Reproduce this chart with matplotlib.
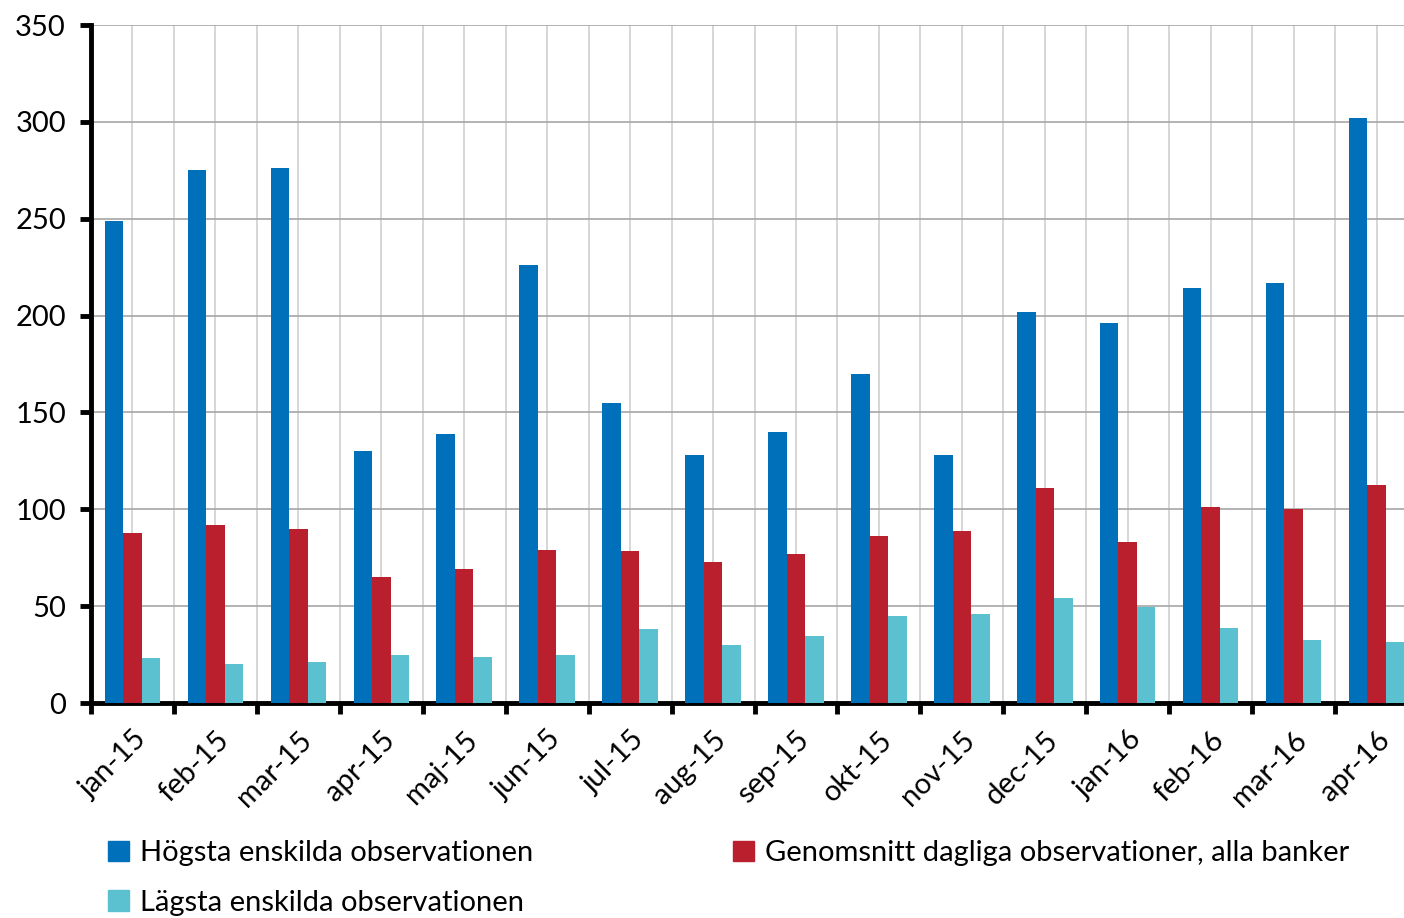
import numpy as np
import matplotlib.pyplot as plt
from matplotlib.patches import Patch

# Données
mois = ['jan-15', 'feb-15', 'mar-15', 'apr-15', 'maj-15', 'jun-15', 'jul-15', 'aug-15',
        'sep-15', 'okt-15', 'nov-15', 'dec-15', 'jan-16', 'feb-16', 'mar-16', 'apr-16']
hogsta = [249, 275, 276, 130, 139, 226, 155, 128, 140, 170, 128, 202, 196, 214, 217, 302]
genomsnitt = [88, 92, 90, 65, 69, 79, 78.5, 73, 77, 86, 89, 111, 83, 101, 100, 112.5]
lagsta = [23, 20, 21, 25, 24, 25, 38, 30, 34.5, 45, 46, 54, 49.5, 38.5, 32.5, 31.5]

noms = ['Högsta enskilda observationen',
        'Genomsnitt dagliga observationer, alla banker',
        'Lägsta enskilda observationen']
couleurs = ['#0070BA', '#BA1F2D', '#5BC0CF']

plt.rcParams['font.family'] = ['Lato', 'DejaVu Sans']

fig = plt.figure(figsize=(14.04, 9.18), dpi=100)
ax = fig.add_axes([91 / 1404, 215 / 918, 1327 / 1404, 678 / 918])

x = np.arange(len(mois))
w = 0.223
ax.bar(x - w, hogsta, w, color=couleurs[0], zorder=3)
ax.bar(x, genomsnitt, w, color=couleurs[1], zorder=3)
ax.bar(x + w, lagsta, w, color=couleurs[2], zorder=3)

ax.set_xlim(-0.5, len(mois) - 0.5)
ax.set_ylim(0, 350)
ax.set_yticks(np.arange(0, 351, 50))

# ticks aux limites des catégories, étiquettes au centre
ax.set_xticks(np.arange(len(mois) + 1) - 0.5)
ax.set_xticklabels([])
ax.set_xticks(x, minor=True)
ax.set_xticklabels(mois, minor=True, rotation=45, ha='right', rotation_mode='anchor')
ax.tick_params(axis='x', which='minor', length=0, labelsize=21, pad=17)
ax.tick_params(axis='x', which='major', length=8, width=3.5, color='black')
ax.tick_params(axis='y', length=8, width=3.5, labelsize=21, pad=10)

ax.grid(axis='y', color='#A6A6A6', linewidth=1.2, zorder=0)
ax.grid(axis='x', which='both', color='#D0D0D0', linewidth=1.2, zorder=0)

for s in ['top', 'right']:
    ax.spines[s].set_visible(False)
for s in ['left', 'bottom']:
    ax.spines[s].set_linewidth(3.5)

handles = [Patch(color=couleurs[0], label=noms[0]),
           Patch(color=couleurs[2], label=noms[2]),
           Patch(color=couleurs[1], label=noms[1])]
fig.legend(handles=handles, ncol=2, loc='upper left', bbox_to_anchor=(82 / 1404, 1 - 814 / 918),
           frameon=False, fontsize=21, handlelength=0.7, handleheight=0.7, handletextpad=0.4,
           columnspacing=6.85, labelspacing=0.8)

plt.savefig('out.png', dpi=100)
